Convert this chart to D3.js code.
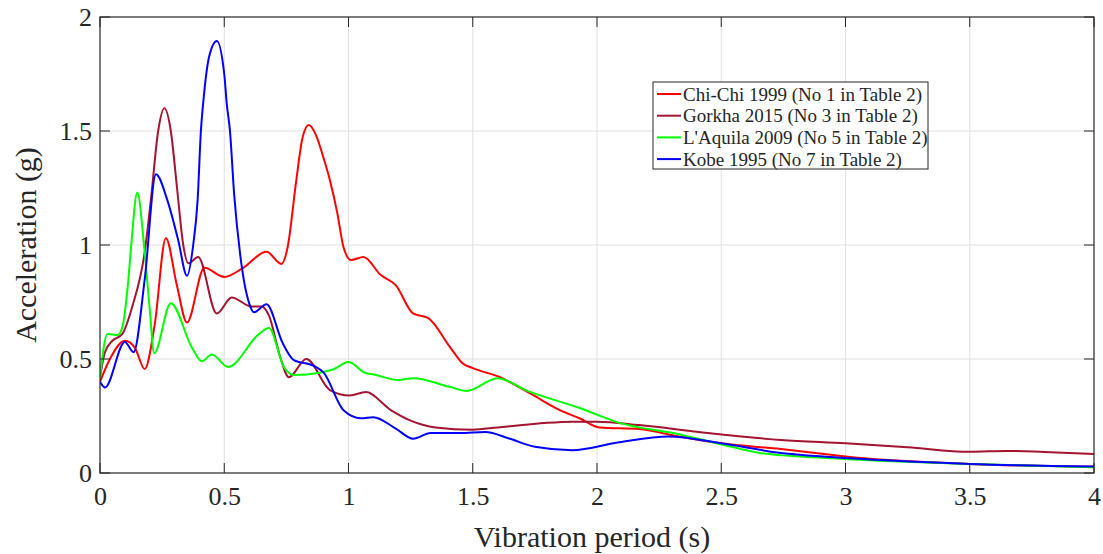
<!DOCTYPE html>
<html>
<head>
<meta charset="utf-8">
<script src="https://cdn.jsdelivr.net/npm/d3@7"></script>
<style>
  body { margin: 0; background: #fff; }
  svg { display: block; }
  text { font-family: "Liberation Serif", "Times New Roman", serif; fill: #262626; }
</style>
</head>
<body>
<svg id="chart" width="1103" height="554"></svg>
<script>
// period (s) and spectral acceleration (g)
const chiChiT = [0, 0.04, 0.10, 0.14, 0.18, 0.22, 0.265, 0.31, 0.35, 0.42, 0.50, 0.57, 0.67, 0.73, 0.755, 0.79, 0.815, 0.84, 0.87, 0.90, 0.925, 0.955, 0.98, 1.01, 1.06, 1.13, 1.19, 1.26, 1.32, 1.41, 1.46, 1.50, 1.61, 1.73, 1.85, 1.93, 2.01, 2.17, 2.33, 2.50, 2.74, 2.94, 3.0, 3.5, 4.0];
const chiChiA = [0.40, 0.50, 0.58, 0.55, 0.456, 0.65, 1.03, 0.82, 0.66, 0.90, 0.86, 0.895, 0.97, 0.917, 0.99, 1.285, 1.47, 1.526, 1.48, 1.38, 1.285, 1.14, 0.99, 0.934, 0.947, 0.868, 0.824, 0.70, 0.68, 0.55, 0.48, 0.46, 0.42, 0.35, 0.276, 0.24, 0.20, 0.193, 0.16, 0.13, 0.105, 0.08, 0.072, 0.04, 0.027];

const gorkhaT = [0, 0.02, 0.05, 0.09, 0.13, 0.18, 0.205, 0.234, 0.259, 0.285, 0.31, 0.335, 0.355, 0.395, 0.47, 0.53, 0.61, 0.65, 0.68, 0.725, 0.76, 0.83, 0.925, 1.005, 1.07, 1.17, 1.25, 1.35, 1.5, 1.6, 1.7, 1.8, 1.9, 2.0, 2.17, 2.41, 2.74, 3.0, 3.25, 3.5, 3.65, 3.8, 4.0];
const gorkhaA = [0.42, 0.53, 0.58, 0.61, 0.73, 0.97, 1.20, 1.50, 1.60, 1.50, 1.25, 1.00, 0.92, 0.947, 0.70, 0.77, 0.73, 0.73, 0.69, 0.51, 0.42, 0.50, 0.364, 0.34, 0.355, 0.276, 0.23, 0.20, 0.19, 0.20, 0.21, 0.22, 0.225, 0.225, 0.21, 0.18, 0.145, 0.13, 0.113, 0.093, 0.097, 0.092, 0.083];

const aquilaT = [0, 0.03, 0.07, 0.09, 0.114, 0.125, 0.15, 0.178, 0.20, 0.218, 0.285, 0.37, 0.41, 0.45, 0.515, 0.64, 0.68, 0.74, 0.78, 0.885, 0.94, 1.0, 1.065, 1.11, 1.20, 1.26, 1.41, 1.475, 1.60, 1.72, 1.93, 2.09, 2.33, 2.54, 2.66, 2.94, 3.5, 4.0];
const aquilaA = [0.42, 0.61, 0.605, 0.64, 0.846, 0.99, 1.23, 0.99, 0.72, 0.525, 0.745, 0.55, 0.49, 0.52, 0.465, 0.61, 0.636, 0.465, 0.43, 0.44, 0.455, 0.487, 0.44, 0.43, 0.408, 0.416, 0.377, 0.36, 0.416, 0.36, 0.285, 0.22, 0.17, 0.115, 0.087, 0.065, 0.04, 0.025];

const kobeT = [0, 0.02, 0.10, 0.135, 0.18, 0.225, 0.27, 0.315, 0.35, 0.375, 0.393, 0.406, 0.415, 0.44, 0.47, 0.50, 0.51, 0.523, 0.54, 0.565, 0.60, 0.62, 0.67, 0.735, 0.78, 0.86, 0.90, 0.98, 1.05, 1.10, 1.19, 1.26, 1.33, 1.45, 1.55, 1.65, 1.75, 1.9, 2.09, 2.29, 2.50, 2.74, 2.94, 3.5, 4.0];
const kobeA = [0.40, 0.375, 0.575, 0.53, 0.85, 1.31, 1.20, 1.02, 0.865, 1.0, 1.20, 1.50, 1.62, 1.83, 1.895, 1.75, 1.62, 1.50, 1.22, 0.95, 0.745, 0.705, 0.74, 0.57, 0.495, 0.47, 0.44, 0.275, 0.24, 0.245, 0.195, 0.15, 0.175, 0.175, 0.18, 0.15, 0.115, 0.10, 0.135, 0.16, 0.13, 0.088, 0.07, 0.04, 0.028];

const seriesNames = ["Chi-Chi 1999 (No 1 in Table 2)", "Gorkha 2015 (No 3 in Table 2)", "L'Aquila 2009 (No 5 in Table 2)", "Kobe 1995 (No 7 in Table 2)"];
const seriesColors = ["#ff0000", "#a2142f", "#00ff00", "#0000ff"];
const xTicks = [0, 0.5, 1, 1.5, 2, 2.5, 3, 3.5, 4];
const yTicks = [0, 0.5, 1, 1.5, 2];

const series = [
  [chiChiT, chiChiA],
  [gorkhaT, gorkhaA],
  [aquilaT, aquilaA],
  [kobeT, kobeA]
].map(([t, a], i) => ({
  name: seriesNames[i],
  color: seriesColors[i],
  points: t.map((v, j) => [v, a[j]])
}));

const plotLeft = 100, plotRight = 1094, plotTop = 17, plotBottom = 473;
const axisColor = "#262626";
const tickLen = 10;

const svg = d3.select("#chart");

const x = d3.scaleLinear().domain([0, 4]).range([plotLeft, plotRight]);
const y = d3.scaleLinear().domain([0, 2]).range([plotBottom, plotTop]);

// grid
svg.append("g")
  .selectAll("line")
  .data(xTicks.slice(1, -1))
  .join("line")
  .attr("x1", (d) => x(d)).attr("x2", (d) => x(d))
  .attr("y1", plotTop).attr("y2", plotBottom)
  .attr("stroke", "#e0e0e0").attr("stroke-width", 1);
svg.append("g")
  .selectAll("line")
  .data(yTicks.slice(1, -1))
  .join("line")
  .attr("x1", plotLeft).attr("x2", plotRight)
  .attr("y1", (d) => y(d)).attr("y2", (d) => y(d))
  .attr("stroke", "#e0e0e0").attr("stroke-width", 1);

// curves
svg.append("clipPath").attr("id", "plot-clip")
  .append("rect")
  .attr("x", plotLeft).attr("y", plotTop)
  .attr("width", plotRight - plotLeft).attr("height", plotBottom - plotTop);

const line = d3.line()
  .x((d) => x(d[0]))
  .y((d) => y(d[1]))
  .curve(d3.curveMonotoneX);

svg.append("g")
  .attr("clip-path", "url(#plot-clip)")
  .selectAll("path")
  .data(series)
  .join("path")
  .attr("d", (d) => line(d.points))
  .attr("fill", "none")
  .attr("stroke", (d) => d.color)
  .attr("stroke-width", 2);

// axes (box with inward ticks on all four sides)
const xAxisBottom = d3.axisBottom(x).tickValues(xTicks).tickSize(0).tickPadding(14).tickFormat(d3.format("~g"));
const yAxisLeft = d3.axisLeft(y).tickValues(yTicks).tickSize(0).tickPadding(8).tickFormat(d3.format("~g"));

const gx = svg.append("g")
  .attr("transform", `translate(0,${plotBottom})`)
  .call(xAxisBottom);
gx.select(".domain").remove();
gx.selectAll("text").attr("font-size", 26).attr("fill", axisColor);

const gy = svg.append("g")
  .attr("transform", `translate(${plotLeft},0)`)
  .call(yAxisLeft);
gy.select(".domain").remove();
gy.selectAll("text").attr("font-size", 26).attr("fill", axisColor);

const ticks = svg.append("g").attr("stroke", axisColor).attr("stroke-width", 1);
xTicks.forEach((t) => {
  ticks.append("line").attr("x1", x(t)).attr("x2", x(t)).attr("y1", plotBottom).attr("y2", plotBottom - tickLen);
  ticks.append("line").attr("x1", x(t)).attr("x2", x(t)).attr("y1", plotTop).attr("y2", plotTop + tickLen);
});
yTicks.forEach((t) => {
  ticks.append("line").attr("x1", plotLeft).attr("x2", plotLeft + tickLen).attr("y1", y(t)).attr("y2", y(t));
  ticks.append("line").attr("x1", plotRight).attr("x2", plotRight - tickLen).attr("y1", y(t)).attr("y2", y(t));
});

svg.append("rect")
  .attr("x", plotLeft).attr("y", plotTop)
  .attr("width", plotRight - plotLeft).attr("height", plotBottom - plotTop)
  .attr("fill", "none")
  .attr("stroke", axisColor)
  .attr("stroke-width", 1.2);

// axis titles
svg.append("text")
  .attr("x", 592)
  .attr("y", 547)
  .attr("text-anchor", "middle")
  .attr("font-size", 30)
  .text("Vibration period (s)");

svg.append("text")
  .attr("transform", `translate(36,${(plotTop + plotBottom) / 2}) rotate(-90)`)
  .attr("text-anchor", "middle")
  .attr("font-size", 30)
  .text("Acceleration (g)");

// legend
const legend = svg.append("g").attr("transform", "translate(653,82)");
legend.append("rect")
  .attr("width", 275).attr("height", 87)
  .attr("fill", "#fff")
  .attr("stroke", axisColor)
  .attr("stroke-width", 1);

const items = legend.selectAll("g")
  .data(series)
  .join("g")
  .attr("transform", (d, i) => `translate(0,${12 + i * 21.7})`);
items.append("line")
  .attr("x1", 4).attr("x2", 28)
  .attr("stroke", (d) => d.color)
  .attr("stroke-width", 2);
items.append("text")
  .attr("x", 30)
  .attr("dy", "0.35em")
  .attr("font-size", 19)
  .text((d) => d.name);
</script>
</body>
</html>
